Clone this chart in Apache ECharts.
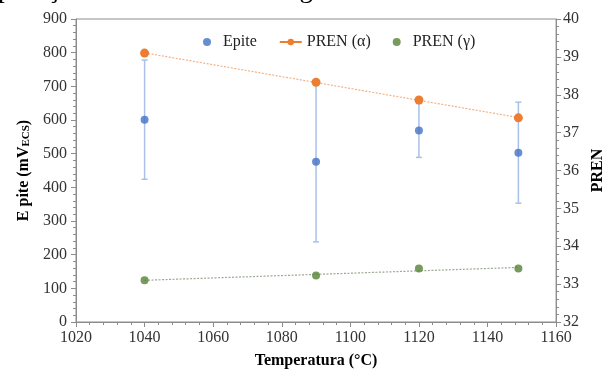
<!DOCTYPE html>
<html>
<head>
<meta charset="utf-8">
<script src="https://cdn.jsdelivr.net/npm/echarts@6/dist/echarts.min.js"></script>
<style>
html, body { margin: 0; padding: 0; background: #fff; }
#chart { width: 614px; height: 374px; }
</style>
</head>
<body>
<div id="chart"></div>
<script>
// temperatures (°C)
const temps = [1040, 1090, 1120, 1149];
// pitting potential and its error (mV ECS)
const epite = [601, 476, 569, 503];
const epiteErr = [177, 238, 80, 150];
// PREN of each phase
const prenAlpha = [39.10, 38.33, 37.86, 37.39];
const prenGamma = [33.10, 33.23, 33.41, 33.41];

const serif = 'Liberation Serif';

// least squares trend line over the temperature range
function trend(xs, ys) {
    const n = xs.length;
    let sx = 0, sy = 0, sxy = 0, sxx = 0;
    for (let i = 0; i < n; i++) {
        sx += xs[i]; sy += ys[i]; sxy += xs[i] * ys[i]; sxx += xs[i] * xs[i];
    }
    const b = (n * sxy - sx * sy) / (n * sxx - sx * sx);
    const a = (sy - b * sx) / n;
    const x0 = xs[0], x1 = xs[n - 1];
    return [[x0, a + b * x0], [x1, a + b * x1]];
}

const chart = echarts.init(document.getElementById('chart'));
chart.setOption({
    animation: false,
    graphic: [{
        type: 'text',
        left: -2,
        top: -24,
        style: {
            text: 'partição dos elementos de liga em cada uma das fases',
            font: '27px "Liberation Serif"',
            fill: '#000'
        }
    }],
    legend: {
        top: 29,
        left: 198,
        itemGap: 22,
        itemWidth: 22,
        itemHeight: 8,
        textStyle: {fontFamily: serif, fontSize: 16, color: '#222'},
        data: [
            {name: 'Epite', icon: 'circle', itemStyle: {color: '#4472C4'}},
            {name: 'PREN (α)', lineStyle: {color: '#ED7D31', width: 2, opacity: 1, type: 'solid'}},
            {name: 'PREN (γ)', icon: 'circle', itemStyle: {color: '#548235'}}
        ]
    },
    grid: {
        left: 76, right: 53, top: 19, bottom: 49,
        show: true, borderColor: '#8c8c8c', borderWidth: 1
    },
    xAxis: {
        type: 'value', min: 1020, max: 1160, interval: 20,
        name: 'Temperatura (°C)', nameLocation: 'middle', nameGap: 31,
        nameTextStyle: {fontFamily: serif, fontSize: 16, fontWeight: 'bold', color: '#000'},
        axisLine: {lineStyle: {color: '#8c8c8c'}},
        axisTick: {show: true, length: 5, lineStyle: {color: '#8c8c8c'}},
        minorTick: {show: true, splitNumber: 5, length: 3, lineStyle: {color: '#8c8c8c'}},
        axisLabel: {fontFamily: serif, fontSize: 16, color: '#333', margin: 8, formatter: v => String(v)},
        splitLine: {show: false}
    },
    yAxis: [{
        type: 'value', min: 0, max: 900, interval: 100,
        name: '{b|E pite (mV}{s|ECS}{b|)}', nameLocation: 'middle', nameGap: 37, nameRotate: 90,
        nameTextStyle: {
            rich: {
                b: {fontFamily: serif, fontSize: 16, fontWeight: 'bold', color: '#000'},
                s: {fontFamily: serif, fontSize: 11, fontWeight: 'bold', color: '#000', verticalAlign: 'bottom', padding: [6, 0, 0, 0]}
            }
        },
        axisLine: {show: true, lineStyle: {color: '#8c8c8c'}},
        axisTick: {show: true, length: 5, lineStyle: {color: '#8c8c8c'}},
        minorTick: {show: true, splitNumber: 5, length: 3, lineStyle: {color: '#8c8c8c'}},
        axisLabel: {fontFamily: serif, fontSize: 16, color: '#333', margin: 9},
        splitLine: {show: false}
    }, {
        type: 'value', min: 32, max: 40, interval: 1, position: 'right',
        name: 'PREN', nameLocation: 'middle', nameGap: 31, nameRotate: 90,
        nameTextStyle: {fontFamily: serif, fontSize: 16, fontWeight: 'bold', color: '#000'},
        axisLine: {show: true, lineStyle: {color: '#8c8c8c'}},
        axisTick: {show: true, length: 5, lineStyle: {color: '#8c8c8c'}},
        minorTick: {show: true, splitNumber: 5, length: 3, lineStyle: {color: '#8c8c8c'}},
        axisLabel: {fontFamily: serif, fontSize: 16, color: '#333', margin: 7},
        splitLine: {show: false}
    }],
    series: [
        {
            name: 'Epite err',
            type: 'custom',
            z: 1,
            data: temps.map((t, i) => [t, epite[i] - epiteErr[i], epite[i] + epiteErr[i]]),
            renderItem: function (params, api) {
                const lo = api.coord([api.value(0), api.value(1)]);
                const hi = api.coord([api.value(0), api.value(2)]);
                const w = 3;
                const st = {stroke: '#a9c0ea', lineWidth: 1.5};
                return {
                    type: 'group',
                    children: [
                        {type: 'line', shape: {x1: lo[0], y1: lo[1], x2: hi[0], y2: hi[1]}, style: st},
                        {type: 'line', shape: {x1: lo[0] - w, y1: lo[1], x2: lo[0] + w, y2: lo[1]}, style: st},
                        {type: 'line', shape: {x1: hi[0] - w, y1: hi[1], x2: hi[0] + w, y2: hi[1]}, style: st}
                    ]
                };
            }
        },
        {
            name: 'Epite',
            type: 'scatter',
            z: 3,
            symbolSize: 8,
            itemStyle: {color: '#4472C4'},
            data: temps.map((t, i) => [t, epite[i]])
        },
        {
            name: 'trend α',
            type: 'line',
            yAxisIndex: 1,
            z: 2,
            symbol: 'none',
            lineStyle: {color: '#F4B183', width: 1.2, type: [2, 1.5]},
            data: trend(temps, prenAlpha)
        },
        {
            name: 'trend γ',
            type: 'line',
            yAxisIndex: 1,
            z: 2,
            symbol: 'none',
            lineStyle: {color: '#9aa894', width: 1.2, type: [2, 1.5]},
            data: trend(temps, prenGamma)
        },
        {
            name: 'PREN (α)',
            type: 'line',
            yAxisIndex: 1,
            z: 4,
            symbol: 'circle',
            symbolSize: 9,
            itemStyle: {color: '#ED7D31'},
            lineStyle: {width: 0, opacity: 0},
            data: temps.map((t, i) => [t, prenAlpha[i]])
        },
        {
            name: 'PREN (γ)',
            type: 'scatter',
            yAxisIndex: 1,
            z: 4,
            symbolSize: 8,
            itemStyle: {color: '#548235'},
            data: temps.map((t, i) => [t, prenGamma[i]])
        }
    ]
});
</script>
</body>
</html>
